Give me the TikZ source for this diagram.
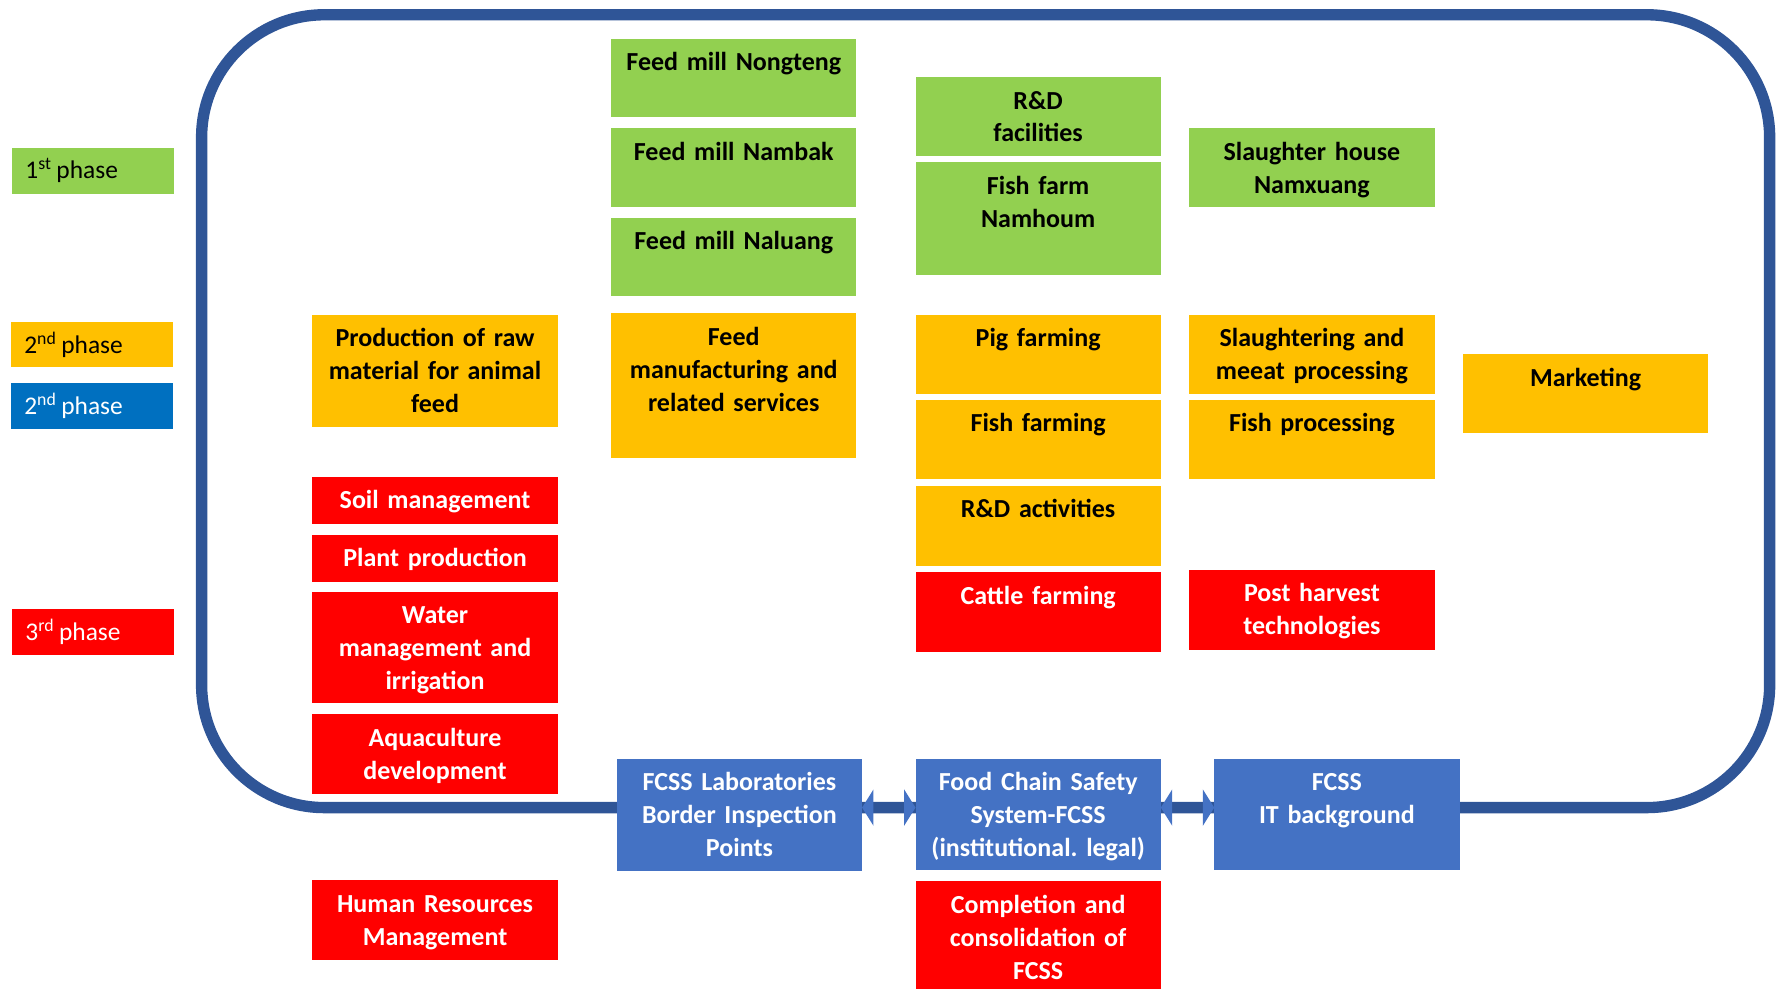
\documentclass[tikz,border=0pt]{standalone}
\usepackage{fontspec}
\setmainfont{Carlito}
\usetikzlibrary{positioning,arrows.meta}
\frenchspacing

\definecolor{lgreen}{HTML}{92D050}
\definecolor{lorange}{HTML}{FFC000}
\definecolor{lred}{HTML}{FF0000}
\definecolor{lblue}{HTML}{4472C4}
\definecolor{lblue2}{HTML}{0070C0}
\definecolor{frameblue}{HTML}{2F5597}

\tikzset{
  blk/.style={text width=108pt, inner xsep=0pt, inner ysep=4pt, outer sep=0pt, text height=10pt, text depth=#1,
    align=center, font=\fontsize{11.45}{14.5}\selectfont\bfseries},
  grn/.style={blk=#1, fill=lgreen},
  org/.style={blk=#1, fill=lorange},
  rd/.style={blk=#1, fill=lred, text=white},
  bl/.style={blk=#1, fill=lblue, text=white},
  phase/.style={anchor=north west, minimum height=20pt, text width=59.5pt, inner xsep=6pt,
    align=left, font=\fontsize{11.2}{13}\selectfont},
  fcsstip/.tip={Triangle[width=16pt,length=5pt,line width=0pt,color=lblue,fill=lblue]},
  dblink/.style={draw=frameblue, line width=5pt, fcsstip-fcsstip},
}

\begin{document}
\begin{tikzpicture}[x=0.5pt, y=-0.5pt]
\useasboundingbox (0,0) rectangle (1568,871);
\draw[frameblue, line width=5pt, rounded corners=54pt] (177.5,13) rectangle (1558,711);

% legend
\node[phase, fill=lgreen] (ph1) at (10,130) {1\textsuperscript{st}\,phase};
\node[phase, fill=lorange] (ph2) at (9,283) {2\textsuperscript{nd}\,phase};
\node[phase, fill=lblue2, text=white] (ph2b) at (9,337) {2\textsuperscript{nd}\,phase};
\node[phase, fill=lred, text=white] (ph3) at (10,536) {3\textsuperscript{rd}\,phase};

% column 1
\node[org=31.5pt, anchor=north west] (raw) at (275,277) {Production of raw\\material for animal\\feed};
\node[rd=2.5pt, below=22pt of raw] (soil) {Soil management};
\node[rd=2.5pt, below=5pt of soil] (plant) {Plant production};
\node[rd=31pt, below=4.5pt of plant] (water) {Water\\management and\\irrigation};
\node[rd=17pt, below=5pt of water] (aqua) {Aquaculture\\development};
\node[rd=17pt, below=38pt of aqua] (hrm) {Human Resources\\Management};

% column 2
\node[grn=16.5pt, anchor=north west] (mill1) at (538,34) {Feed mill Nongteng};
\node[grn=16.5pt, below=5pt of mill1] (mill2) {Feed mill Nambak};
\node[grn=16.5pt, below=5pt of mill2] (mill3) {Feed mill Naluang};
\node[org=45.5pt, below=7.5pt of mill3] (feed) {Feed\\manufacturing and\\related services};
\node[bl=31.5pt, anchor=north west] (lab) at (543,668) {FCSS Laboratories\\Border Inspection\\Points};

% column 3
\node[grn=16.5pt, anchor=north west] (rdf) at (806,68) {R\&D\\facilities};
\node[grn=31.5pt, below=3pt of rdf] (farm) {Fish farm\\Namhoum};
\node[org=17pt, below=17.5pt of farm] (pig) {Pig farming};
\node[org=17pt, below=2.5pt of pig] (fish) {Fish farming};
\node[org=17pt, below=3pt of fish] (rda) {R\&D activities};
\node[rd=17pt, below=3pt of rda] (cattle) {Cattle farming};
\node[bl=31pt, below=47pt of cattle] (fcss) {Food Chain Safety\\System-FCSS\\(institutional. legal)};
\node[rd=29.5pt, below=5pt of fcss] (compl) {Completion and\\consolidation of\\FCSS};

% column 4
\node[grn=16.5pt, anchor=north west] (slh) at (1047,113) {Slaughter house\\Namxuang};
\node[org=17pt, below=47.5pt of slh] (slt) {Slaughtering and\\meeat processing};
\node[org=17pt, below=2.5pt of slt] (fproc) {Fish processing};
\node[rd=17pt, below=40pt of fproc] (post) {Post harvest\\technologies};
\node[bl=31pt, anchor=north west] (it) at (1069,668) {FCSS\\IT background};

% column 5
\node[org=16.5pt, anchor=north west] (mkt) at (1288,312) {Marketing};

% FCSS links
\draw[dblink] ([yshift=3.25pt]lab.east) -- ([yshift=3pt]fcss.west);
\draw[dblink] ([yshift=3pt]fcss.east) -- ([yshift=3pt]it.west);
\end{tikzpicture}
\end{document}
